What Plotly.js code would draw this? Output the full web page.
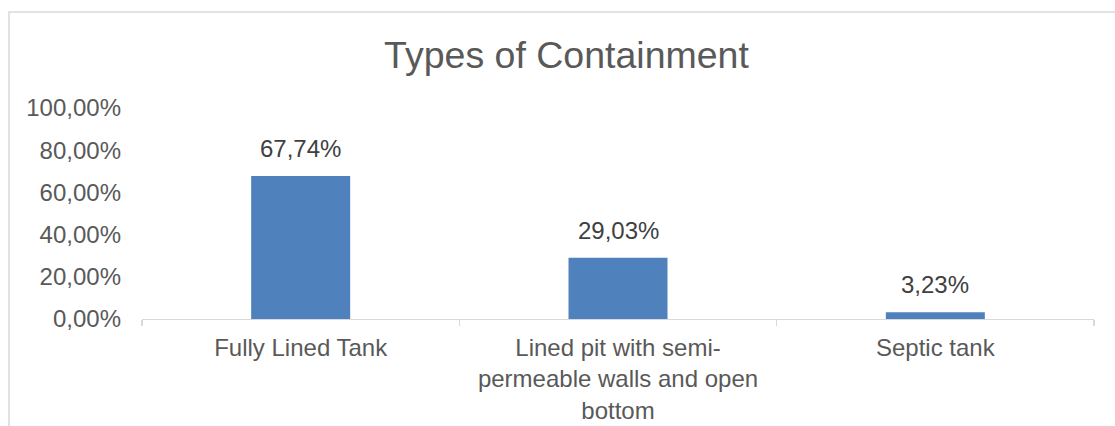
<!DOCTYPE html>
<html>
<head>
<meta charset="utf-8">
<script src="https://cdn.plot.ly/plotly-3.0.1.min.js"></script>
<style>
html,body{margin:0;padding:0;background:#fff;}
#chart{width:1115px;height:426px;}
</style>
</head>
<body>
<div id="chart"></div>
<script>
var categories = ["Fully Lined Tank", "Lined pit with semi-<br>permeable walls and open<br>bottom", "Septic tank"];
var values = [0.6774, 0.2903, 0.0323];
var yTicks = [0, 0.2, 0.4, 0.6, 0.8, 1.0];
var chartTitle = "Types of Containment";

function fmt(v){ return (v*100).toFixed(2).replace('.', ',') + '%'; }

var font = "Liberation Sans, Arial, sans-serif";

var trace = {
  type: 'bar',
  x: categories,
  y: values,
  marker: {color: '#4F81BD', line: {width: 0}},
  hoverinfo: 'none'
};

var annotations = categories.map(function(c, i){
  return {
    x: c, y: values[i], xref: 'x', yref: 'y',
    text: fmt(values[i]), showarrow: false,
    yanchor: 'bottom', yshift: 12,
    font: {family: font, size: 24, color: '#404040'}
  };
});

var plotL = 142, plotR = 1094, plotT = 108, plotB = 319;
var pw = plotR - plotL, ph = plotB - plotT;
function px2x(p){ return (p - plotL) / pw; }
function px2y(p){ return (plotB - p) / ph; }

var layout = {
  width: 1115, height: 426,
  margin: {l: plotL, r: 1115 - plotR, t: plotT, b: 426 - plotB, pad: 0},
  paper_bgcolor: '#fff', plot_bgcolor: '#fff',
  separators: ',.',
  showlegend: false,
  bargap: 0.688,
  title: {
    text: chartTitle,
    x: 566.5/1115, xref: 'container', xanchor: 'center',
    y: 1 - 55/426, yref: 'container', yanchor: 'middle',
    font: {family: font, size: 37.5, color: '#595959'}
  },
  xaxis: {
    type: 'category',
    showline: true, linecolor: '#d9d9d9', linewidth: 1.3,
    ticks: 'outside', tickson: 'boundaries', ticklen: 6, tickcolor: '#d9d9d9', tickwidth: 1.3,
    showgrid: false, zeroline: false,
    tickfont: {family: font, size: 24, color: '#595959'},
    ticklabelstandoff: 7
  },
  yaxis: {
    range: [0, 1],
    tickvals: yTicks,
    tickformat: '.2%',
    showline: false, showgrid: false, zeroline: false,
    ticks: '',
    tickfont: {family: font, size: 24, color: '#595959'},
    ticklabelstandoff: 20
  },
  annotations: annotations,
  shapes: [{
    type: 'rect', xref: 'paper', yref: 'paper',
    x0: px2x(9), x1: px2x(1125), y0: px2y(440), y1: px2y(12),
    line: {color: '#d9d9d9', width: 1.5}, fillcolor: 'rgba(0,0,0,0)', layer: 'below'
  }]
};

Plotly.newPlot('chart', [trace], layout, {staticPlot: true, displayModeBar: false});
</script>
</body>
</html>
